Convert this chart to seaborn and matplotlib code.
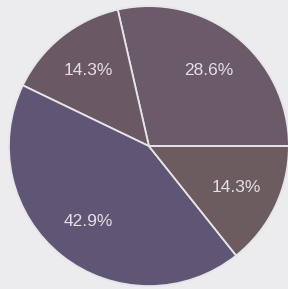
import matplotlib
matplotlib.use("Agg")
import matplotlib.pyplot as plt
import seaborn as sns

# slice values (counted counter-clockwise from 3 o'clock)
slices = ["A", "B", "C", "D"]
counts = [2, 1, 3, 1]
colors = ["#6a5a6a", "#6a5862", "#5f5574", "#6c5c60"]

sns.set_style("white")
plt.rcParams["font.family"] = ["Liberation Sans", "DejaVu Sans"]

fig = plt.figure(figsize=(2.88, 2.89), dpi=100)
fig.patch.set_facecolor("#ececef")
ax = fig.add_axes([0.031, 0.010, 0.972, 0.969])
ax.set_facecolor("#ececef")

wedges, texts, autotexts = ax.pie(
    counts,
    colors=colors,
    startangle=0,
    counterclock=True,
    autopct="%1.1f%%",
    pctdistance=0.69,
    wedgeprops=dict(edgecolor="#e6e6ea", linewidth=1.3),
    textprops=dict(color="#e4dfe6", fontsize=12.5),
)
ax.set_xlim(-1, 1)
ax.set_ylim(-1, 1)
ax.set_aspect("equal")
ax.axis("off")

fig.savefig("out.png", dpi=100, facecolor=fig.get_facecolor())
